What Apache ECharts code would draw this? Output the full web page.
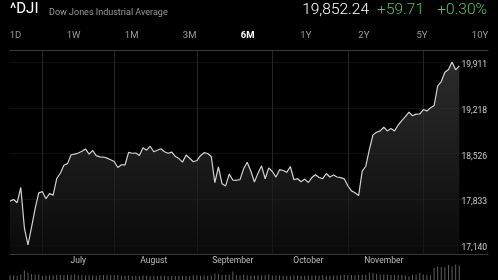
<!DOCTYPE html>
<html>
<head>
<meta charset="utf-8">
<script src="https://cdn.jsdelivr.net/npm/echarts@6/dist/echarts.min.js"></script>
<style>
html, body { margin: 0; padding: 0; background: #000; }
#dji { width: 498px; height: 280px; }
</style>
</head>
<body>
<div id="dji"></div>
<script>
// DJI 6M chart
var symbol = '^DJI';
var symbolName = 'Dow Jones Industrial Average';
var lastPrice = '19,852.24';
var change = '+59.71';
var changePct = '+0.30%';
var periods = ['1D', '1W', '1M', '3M', '6M', '1Y', '2Y', '5Y', '10Y'];
var activePeriod = '6M';

// trading days of 2016 shown on the chart, by month
var tradingDays = [
    [6, [20, 21, 22, 23, 24, 27, 28, 29, 30]],
    [7, [1, 5, 6, 7, 8, 11, 12, 13, 14, 15, 18, 19, 20, 21, 22, 25, 26, 27, 28, 29]],
    [8, [1, 2, 3, 4, 5, 8, 9, 10, 11, 12, 15, 16, 17, 18, 19, 22, 23, 24, 25, 26, 29, 30, 31]],
    [9, [1, 2, 6, 7, 8, 9, 12, 13, 14, 15, 16, 19, 20, 21, 22, 23, 26, 27, 28, 29, 30]],
    [10, [3, 4, 5, 6, 7, 10, 11, 12, 13, 14, 17, 18, 19, 20, 21, 24, 25, 26, 27, 28, 31]],
    [11, [1, 2, 3, 4, 7, 8, 9, 10, 11, 14, 15, 16, 17, 18, 21, 22, 23, 25, 28, 29, 30]],
    [12, [1, 2, 5, 6, 7, 8, 9, 12, 13, 14, 15]]
];
var monthNames = ['January', 'February', 'March', 'April', 'May', 'June', 'July',
    'August', 'September', 'October', 'November', 'December'];

var closes = [
    17804.87, 17829.73, 17780.83, 18011.07, 17400.75, 17140.24, 17409.72, 17694.68, 17929.99,
    17949.37, 17840.62, 17918.62, 17895.88, 18146.74, 18226.93, 18347.67, 18372.12, 18506.41, 18516.55,
    18533.05, 18559.01, 18595.03, 18517.23, 18570.85, 18493.06, 18473.75, 18472.17, 18456.35, 18432.24,
    18404.51, 18313.77, 18355.00, 18352.05, 18543.53, 18529.29, 18533.05, 18495.66, 18613.52, 18576.47,
    18636.05, 18552.02, 18573.94, 18597.70, 18552.57, 18529.42, 18547.30, 18481.48, 18448.41, 18395.40,
    18502.99, 18454.30, 18400.88,
    18419.30, 18491.96, 18538.12, 18526.14, 18479.91, 18085.45, 18325.07, 18066.75, 18034.77, 18212.48,
    18123.80, 18120.17, 18129.96, 18293.70, 18392.46, 18261.45, 18094.83, 18228.30, 18339.24, 18143.45,
    18308.15,
    18253.85, 18168.45, 18281.03, 18268.50, 18240.49, 18329.04, 18128.66, 18144.20, 18098.94, 18138.38,
    18086.40, 18161.94, 18202.62, 18162.35, 18145.71, 18223.03, 18169.27, 18199.33, 18169.68, 18161.19,
    18142.42,
    18037.10, 17959.64, 17930.67, 17888.28, 18259.60, 18332.74, 18589.69, 18807.88, 18847.66, 18868.69,
    18923.06, 18868.14, 18903.82, 18867.93, 18956.69, 19023.87, 19083.18, 19152.14, 19097.90, 19121.60,
    19123.58,
    19191.93, 19170.42, 19216.24, 19251.78, 19549.62, 19614.81, 19756.85, 19796.43, 19911.21, 19792.53,
    19852.24
];

// volume (millions)
var volumes = [
    95, 90, 85, 110, 190, 150, 120, 110, 115,
    85, 90, 95, 90, 105, 100, 95, 100, 105, 110, 90, 95, 90, 95, 90, 85, 95, 100, 95, 100,
    95, 100, 90, 85, 90, 80, 85, 85, 90, 85, 80, 85, 80, 85, 90, 75, 80, 80, 85, 85, 80, 75, 95,
    90, 85, 90, 85, 85, 130, 120, 105, 100, 100, 170, 95, 90, 105, 95, 90, 90, 95, 95, 100, 110,
    85, 90, 90, 85, 85, 80, 95, 90, 85, 85, 85, 85, 90, 90, 100, 85, 85, 90, 90, 95, 105,
    100, 100, 95, 105, 110, 105, 150, 145, 120, 110, 105, 100, 100, 100, 95, 100, 90, 75, 105, 110, 140,
    110, 100, 95, 240, 270, 260, 250, 300, 270, 310, 290
];

var yTicks = [17140, 17833, 18526, 19218, 19911];

function pad2(n) { return (n < 10 ? '0' : '') + n; }

var dates = [];
var monthStarts = [];
tradingDays.forEach(function (m) {
    monthStarts.push(dates.length);
    m[1].forEach(function (d) {
        dates.push('2016-' + pad2(m[0]) + '-' + pad2(d));
    });
});
monthStarts.push(dates.length);

// empty slots so the time axis runs on under the price labels
var categories = dates.slice();
for (var i = 0; i < 8; i++) categories.push('');

// month names sit midway between two month lines (whole months only)
var labelIdx = [];
for (var k = 1; k < monthStarts.length - 1; k++) {
    if (k + 1 < monthStarts.length - 1) {
        labelIdx.push(Math.floor((monthStarts[k] + monthStarts[k + 1]) / 2));
    }
}
var gridLineIdx = monthStarts.slice(1, monthStarts.length - 1);

var graphic = [
    { type: 'text', left: 10, top: 2, style: { text: symbol, fill: '#fff', fontSize: 15, fontFamily: 'Roboto' } },
    { type: 'text', left: 49, top: 8, style: { text: symbolName, fill: '#9a9a9a', fontSize: 9, fontFamily: 'Roboto' } },
    { type: 'text', right: 129, top: 2, style: { text: lastPrice, fill: '#fff', fontSize: 15.5, fontWeight: 300, fontFamily: 'Roboto' } },
    { type: 'text', right: 74, top: 2, style: { text: change, fill: '#55c35a', fontSize: 15.5, fontWeight: 300, fontFamily: 'Roboto' } },
    { type: 'text', right: 11, top: 2, style: { text: changePct, fill: '#55c35a', fontSize: 15.5, fontWeight: 300, fontFamily: 'Roboto' } }
];
periods.forEach(function (p, i) {
    var active = p === activePeriod;
    graphic.push({
        type: 'text',
        x: 15.5 + i * (480 - 15.5) / (periods.length - 1),
        y: 36,
        style: {
            text: p, fill: active ? '#fff' : '#9a9a9a', fontSize: 9.5,
            fontWeight: active ? 'bold' : 'normal', fontFamily: 'Roboto',
            align: 'center', verticalAlign: 'middle', textAlign: 'center', textVerticalAlign: 'middle'
        }
    });
});

var myChart = echarts.init(document.getElementById('dji'));

var option = {
    backgroundColor: '#000',
    animation: false,
    textStyle: { fontFamily: 'Roboto, "Noto Sans", sans-serif' },
    graphic: graphic,
    grid: [
        { left: 10, right: 10, top: 50, bottom: 26, outerBoundsMode: 'none' },
        { left: 10, right: 10, top: 262, bottom: 0, outerBoundsMode: 'none' }
    ],
    xAxis: [
        {
            type: 'category', gridIndex: 0, data: categories, boundaryGap: false,
            axisLine: { lineStyle: { color: '#383838', width: 1 } },
            axisTick: { show: false },
            axisLabel: {
                color: '#bdbdbd', fontSize: 8.5, margin: 2,
                interval: function (idx) { return labelIdx.indexOf(idx) >= 0; },
                formatter: function (v) { return v ? monthNames[+v.slice(5, 7) - 1] : ''; }
            },
            splitLine: {
                show: true,
                interval: function (idx) { return gridLineIdx.indexOf(idx) >= 0; },
                lineStyle: { color: '#262626', width: 1 }
            }
        },
        {
            type: 'category', gridIndex: 0, position: 'top', data: categories, boundaryGap: false,
            axisLine: { lineStyle: { color: '#383838', width: 1 } },
            axisTick: { show: false }, axisLabel: { show: false }, splitLine: { show: false }
        },
        { type: 'category', gridIndex: 1, data: categories, boundaryGap: false, show: false }
    ],
    yAxis: [
        {
            type: 'value', gridIndex: 0, position: 'right',
            // leave room above the high and below the low, as in the app
            min: function (v) { return v.min - (v.max - v.min) * 9 / 183; },
            max: function (v) { return v.max + (v.max - v.min) * 12 / 183; },
            axisLine: { show: false },
            axisTick: { show: false, customValues: yTicks },
            axisLabel: {
                inside: true, customValues: yTicks, margin: 1,
                color: '#c8c8c8', fontSize: 8.5, verticalAlign: 'top', lineHeight: 6,
                formatter: function (v) { return echarts.format.addCommas(Math.round(v)); }
            },
            splitLine: { show: true, lineStyle: { color: '#111', width: 1 } }
        },
        { type: 'value', gridIndex: 1, min: 0, max: 360, show: false }
    ],
    series: [
        {
            name: 'DJI', type: 'line', xAxisIndex: 0, yAxisIndex: 0,
            data: closes, symbol: 'none', smooth: false,
            lineStyle: { color: '#d2d2d2', width: 1.2 },
            areaStyle: {
                color: new echarts.graphic.LinearGradient(0, 0, 0, 1, [
                    { offset: 0, color: '#3e3e3e' },
                    { offset: 1, color: '#0e0e0e' }
                ])
            }
        },
        {
            name: 'Volume', type: 'bar', xAxisIndex: 2, yAxisIndex: 1,
            data: volumes, barWidth: 1,
            itemStyle: { color: '#5e5e5e' }
        }
    ]
};

myChart.setOption(option);
</script>
</body>
</html>
